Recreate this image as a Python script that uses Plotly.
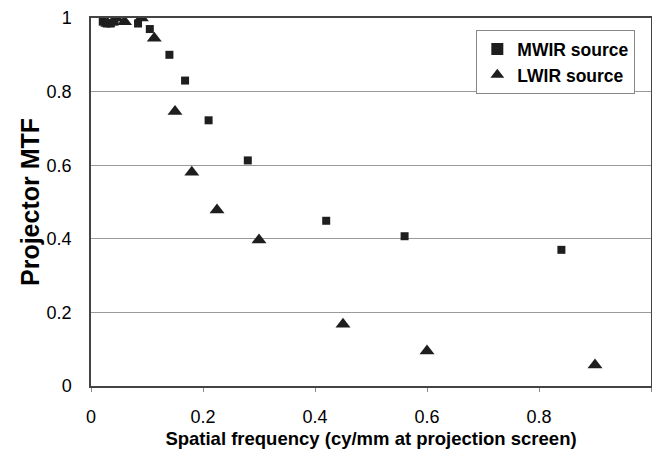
import plotly.graph_objects as go

mwir_x = [0.021, 0.028, 0.035, 0.042, 0.084, 0.105, 0.14, 0.168, 0.21, 0.28, 0.42, 0.56, 0.84]
mwir_y = [0.99, 0.985, 0.985, 0.99, 0.985, 0.97, 0.90, 0.83, 0.722, 0.613, 0.449, 0.407, 0.37]

lwir_x = [0.03, 0.045, 0.06, 0.09, 0.113, 0.15, 0.18, 0.225, 0.30, 0.45, 0.60, 0.90]
lwir_y = [0.985, 1.0, 0.99, 1.0, 0.945, 0.746, 0.581, 0.478, 0.397, 0.168, 0.095, 0.057]

tick_vals = [0, 0.2, 0.4, 0.6, 0.8, 1]
tick_text = ["0", "0.2", "0.4", "0.6", "0.8", "1"]

font = "Liberation Sans, Arial, sans-serif"

fig = go.Figure()
fig.add_trace(go.Scatter(x=mwir_x, y=mwir_y, mode="markers", name="MWIR source",
                         marker=dict(symbol="square", size=8, color="#1e1e1e")))
fig.add_trace(go.Scatter(x=lwir_x, y=lwir_y, mode="markers", name="LWIR source",
                         marker=dict(symbol="triangle-up", size=13, color="#1e1e1e")))

fig.update_layout(
    width=652, height=450,
    margin=dict(l=91, r=1, t=18, b=64),
    paper_bgcolor="white", plot_bgcolor="white",
    font=dict(family=font, color="black", size=15),
    showlegend=True,
    legend=dict(x=0.972, y=0.967, xanchor="right", yanchor="top",
                bordercolor="#888", borderwidth=1, bgcolor="white",
                font=dict(size=17.5, family=font, weight="bold"),
                itemsizing="constant", tracegroupgap=2, itemwidth=30),
)
fig.update_xaxes(range=[0, 1], tickvals=tick_vals, ticktext=tick_text,
                 showgrid=False, zeroline=False, automargin=False,
                 showline=True, linecolor="#444", linewidth=1.5, mirror=True,
                 ticks="outside", ticklen=4, tickcolor="#888",
                 ticklabelstandoff=10,
                 tickfont=dict(size=18),
                 title=dict(text="Spatial frequency (cy/mm at projection screen)",
                            font=dict(size=18.5, weight="bold"), standoff=6))
fig.update_yaxes(range=[0, 1], tickvals=tick_vals, ticktext=tick_text,
                 showgrid=True, gridcolor="#9a9a9a", gridwidth=1, zeroline=False,
                 automargin=False,
                 showline=True, linecolor="#444", linewidth=1.5, mirror=True,
                 ticks="", ticklabelstandoff=14,
                 tickfont=dict(size=18),
                 title=dict(text="Projector MTF", font=dict(size=25, weight="bold"), standoff=0))

fig.write_html("out.html", config={"responsive": False, "displayModeBar": False},
               post_script="document.body.style.margin='0';document.body.style.overflow='hidden';")
